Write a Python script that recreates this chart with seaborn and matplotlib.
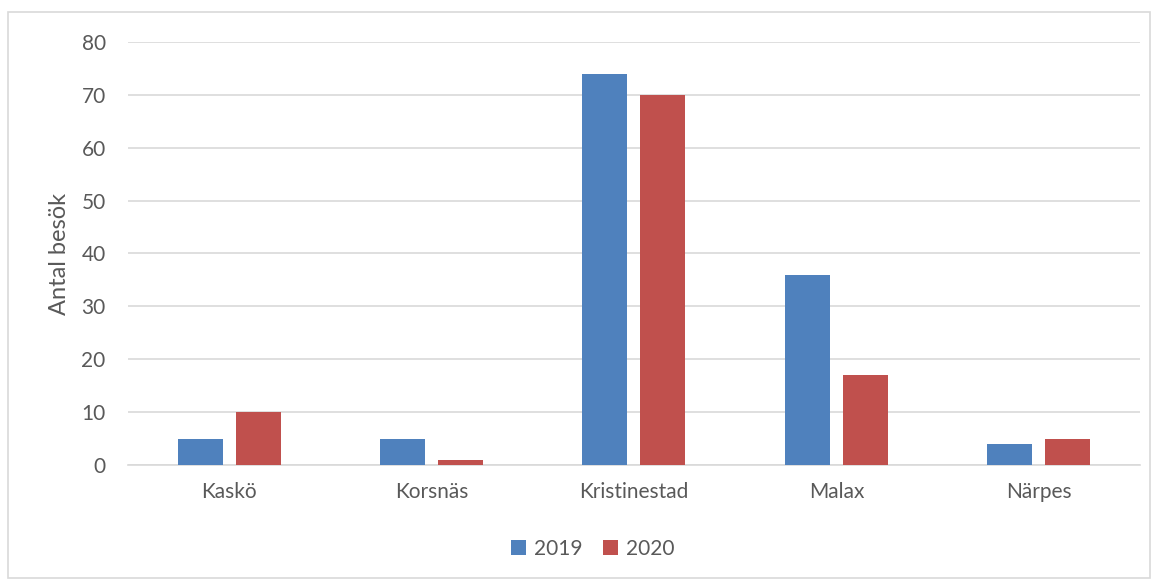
import pandas as pd
import matplotlib.pyplot as plt
import seaborn as sns
from matplotlib.patches import Rectangle

# Data
municipalities = ['Kaskö', 'Korsnäs', 'Kristinestad', 'Malax', 'Närpes']
visits_2019 = [5, 5, 74, 36, 4]
visits_2020 = [10, 1, 70, 17, 5]
years = ['2019', '2020']

df = pd.DataFrame({
    'Kommun': municipalities * 2,
    'Antal': visits_2019 + visits_2020,
    'År': [years[0]] * len(municipalities) + [years[1]] * len(municipalities),
})

sns.set_style('white')
plt.rcParams['font.family'] = ['Lato', 'DejaVu Sans']
text_color = '#595959'

fig = plt.figure(figsize=(11.57, 5.81), dpi=100)
ax = fig.add_axes([0.1106, 0.1997, 0.8747, 0.728])

sns.barplot(data=df, x='Kommun', y='Antal', hue='År',
            palette=['#4F81BD', '#C0504D'], width=0.573, gap=0.224,
            saturation=1, linewidth=0, ax=ax, zorder=3)

ax.set_ylim(0, 80)
ax.set_yticks(range(0, 81, 10))
ax.set_xlim(-0.5, 4.5)
ax.grid(axis='y', color='#D9D9D9', linewidth=1.2, zorder=0)
ax.set_axisbelow(True)
for side in ['top', 'right', 'left']:
    ax.spines[side].set_visible(False)
ax.spines['bottom'].set_color('#D9D9D9')
ax.spines['bottom'].set_linewidth(1.2)
ax.tick_params(axis='both', length=0, labelsize=15, colors=text_color, pad=12)
ax.tick_params(axis='y', pad=16)
ax.set_xlabel('')
ax.set_ylabel('Antal besök', fontsize=17, color=text_color, labelpad=8)

ax.legend(loc='center', bbox_to_anchor=(593 / 1157, 1 - 549 / 581),
          bbox_transform=fig.transFigure, ncol=2, frameon=False,
          fontsize=15, labelcolor=text_color, handlelength=0.7, handleheight=0.7,
          columnspacing=1.0, handletextpad=0.4)

# Chart area border
fig.patches.append(Rectangle((8 / 1157, 3 / 581), 1142 / 1157, 566 / 581,
                             transform=fig.transFigure, fill=False,
                             edgecolor='#D9D9D9', linewidth=1.2))

fig.savefig('out.png', dpi=100)
